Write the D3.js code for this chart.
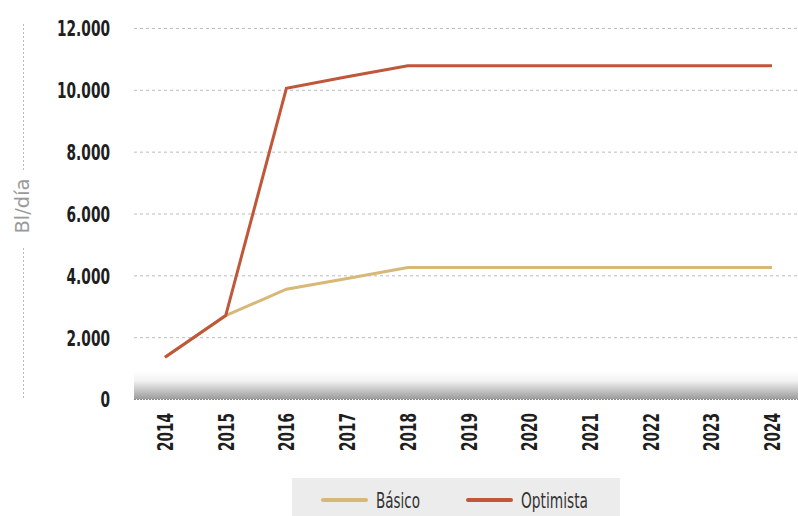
<!DOCTYPE html>
<html><head><meta charset="utf-8">
<script src="https://cdn.jsdelivr.net/npm/d3@7"></script>
<style>
html,body{margin:0;padding:0;background:#fff;}
svg{display:block;}
</style></head>
<body><svg id="c" width="798" height="516"></svg>
<script>
const years = ["2014","2015","2016","2017","2018","2019","2020","2021","2022","2023","2024"];
const basico =    [1350, 2700, 3550, 3900, 4250, 4250, 4250, 4250, 4250, 4250, 4250];
const optimista = [1350, 2700, 10050, 10420, 10780, 10780, 10780, 10780, 10780, 10780, 10780];
const yTicks = [0, 2000, 4000, 6000, 8000, 10000, 12000];
const seriesNames = ["Básico", "Optimista"];
const colors = ["#d8b877", "#c0573a"];

const FONT = "'DejaVu Sans Condensed', 'DejaVu Sans', sans-serif";
const svg = d3.select("#c").attr("font-family", FONT);
const x = d3.scalePoint().domain(years).range([165, 772]);
const y = d3.scaleLinear().domain([0, 12000]).range([399, 28]);
const fmt = v => d3.format(",")(v).replace(/,/g, ".");

// compress so that the widest text in sel gets width target
function squeeze(sel, target) {
  let maxW = 0;
  sel.each(function() { maxW = Math.max(maxW, this.getComputedTextLength()); });
  const f = target / maxW;
  sel.each(function() {
    const w = this.getComputedTextLength();
    d3.select(this).attr("textLength", w * f).attr("lengthAdjust", "spacingAndGlyphs");
  });
}

// gradient band
const defs = svg.append("defs");
const g = defs.append("linearGradient").attr("id","band").attr("x1",0).attr("x2",0).attr("y1",0).attr("y2",1);
g.append("stop").attr("offset","0%").attr("stop-color","#ffffff");
g.append("stop").attr("offset","35%").attr("stop-color","#f2f2f2");
g.append("stop").attr("offset","100%").attr("stop-color","#9c9c9c");
svg.append("rect").attr("x",134).attr("y",y(0)-28).attr("width",798-134).attr("height",28).attr("fill","url(#band)");

// grid
const yAxis = d3.axisLeft(y).tickValues(yTicks).tickSize(-(798-134)).tickFormat(fmt);
const ya = svg.append("g").attr("transform","translate(134,0)").call(yAxis).attr("font-family", FONT);
ya.select(".domain").remove();
ya.selectAll(".tick line").attr("stroke","#bdbdbd").attr("stroke-width",1).attr("stroke-dasharray","3,3")
  .attr("display", d => d === 0 ? "none" : null);
ya.selectAll(".tick text").attr("x",-24).attr("dy","0.36em").attr("fill","#1e1e1e").attr("font-size",22).attr("font-weight","bold");
squeeze(ya.selectAll(".tick text"), 53);

// baseline
svg.append("line").attr("x1",134).attr("x2",798).attr("y1",y(0)+0.5).attr("y2",y(0)+0.5)
  .attr("stroke","#8a8a8a").attr("stroke-width",1).attr("stroke-dasharray","2,1");

// x axis
const xAxis = d3.axisBottom(x).tickSize(0);
const xa = svg.append("g").attr("transform",`translate(0,${y(0)})`).call(xAxis).attr("font-family", FONT);
xa.select(".domain").remove();
xa.selectAll(".tick text").attr("transform","rotate(-90)").attr("text-anchor","end")
  .attr("x",-14).attr("y",0).attr("dy","0.36em").attr("fill","#1e1e1e").attr("font-size",21).attr("font-weight","bold");
squeeze(xa.selectAll(".tick text"), 38);

// y label
const yl = svg.append("text").attr("transform","translate(29,206) rotate(-90)").attr("text-anchor","middle")
  .attr("fill","#9a9a9a").attr("font-size",19).text("Bl/día");
squeeze(yl, 55);
svg.append("line").attr("x1",23.5).attr("x2",23.5).attr("y1",24).attr("y2",172).attr("stroke","#bbb").attr("stroke-dasharray","2,2");
svg.append("line").attr("x1",23.5).attr("x2",23.5).attr("y1",248).attr("y2",400).attr("stroke","#bbb").attr("stroke-dasharray","2,2");

// lines
const line = d3.line().x((d,i)=>x(years[i])).y(d=>y(d));
[basico, optimista].forEach((s,k)=>{
  svg.append("path").datum(s).attr("d",line).attr("fill","none").attr("stroke",colors[k]).attr("stroke-width",3);
});

// legend
svg.append("rect").attr("x",292).attr("y",478).attr("width",328).attr("height",38).attr("fill","#ececec");
const lx = [323, 468];
const legW = [44, 67];
seriesNames.forEach((n,k)=>{
  svg.append("line").attr("x1",lx[k]).attr("x2",lx[k]+43).attr("y1",500).attr("y2",500)
    .attr("stroke",colors[k]).attr("stroke-width",4).attr("stroke-linecap","round");
  const t = svg.append("text").attr("x",lx[k]+53).attr("y",500).attr("dy","0.36em").attr("fill","#333").attr("font-size",21).text(n);
  squeeze(t, legW[k]);
});
</script></body></html>
